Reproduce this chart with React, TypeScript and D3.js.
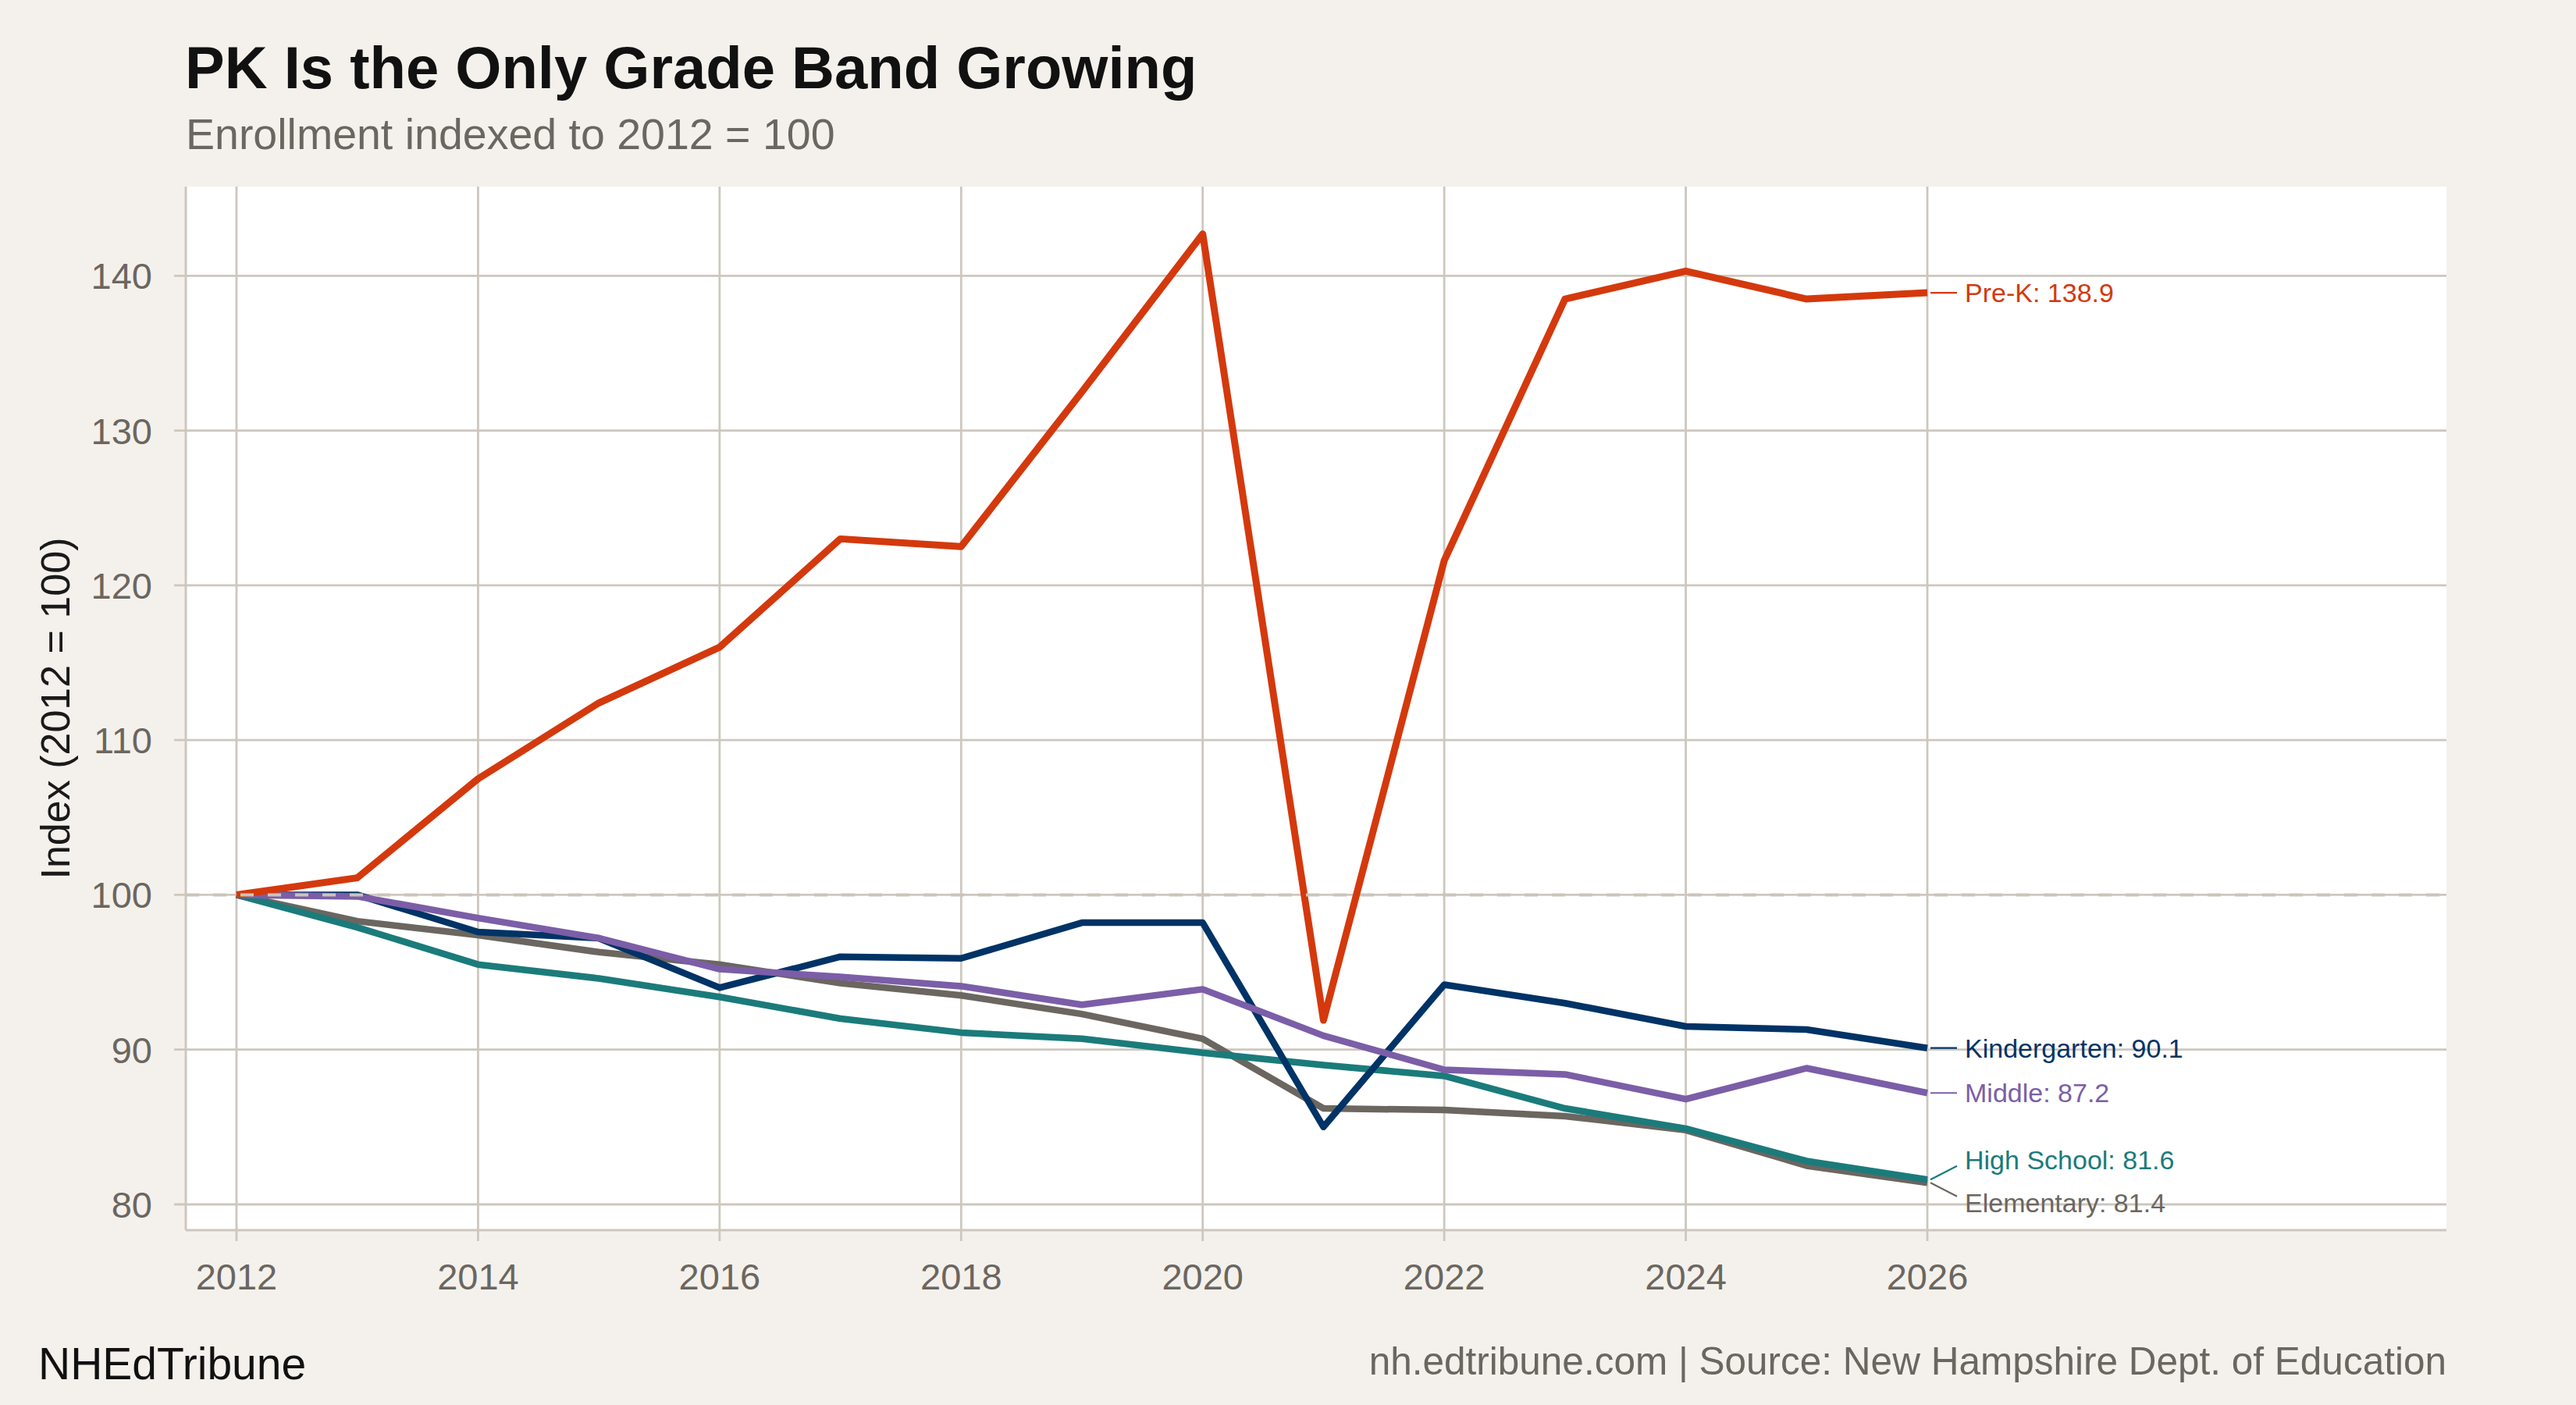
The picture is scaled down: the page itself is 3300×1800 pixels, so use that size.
import React, { useEffect, useRef } from 'react';
import * as d3 from 'd3';

const W = 3300;
const H = 1800;
const PANEL = { left: 238, right: 3134, top: 239, bottom: 1576 };
const FONT = '"Liberation Sans", Arial, Helvetica, sans-serif';

// Data (index, 2012 = 100)
const years = [2012, 2013, 2014, 2015, 2016, 2017, 2018, 2019, 2020, 2021, 2022, 2023, 2024, 2025, 2026];
const elementary = [100, 98.3, 97.4, 96.3, 95.5, 94.3, 93.5, 92.3, 90.7, 86.2, 86.1, 85.7, 84.8, 82.5, 81.4];
const highSchool = [100, 97.9, 95.5, 94.6, 93.4, 92.0, 91.1, 90.7, 89.8, 89.0, 88.3, 86.2, 84.9, 82.8, 81.6];
const kindergarten = [100, 100.0, 97.6, 97.2, 94.0, 96.0, 95.9, 98.2, 98.2, 85.0, 94.2, 93.0, 91.5, 91.3, 90.1];
const middle = [100, 99.9, 98.5, 97.2, 95.2, 94.7, 94.1, 92.9, 93.9, 90.9, 88.7, 88.4, 86.8, 88.8, 87.2];
const preK = [100, 101.1, 107.5, 112.4, 116.0, 123.0, 122.5, 132.5, 142.7, 91.9, 121.6, 138.5, 140.3, 138.5, 138.9];

const seriesNames = ['Elementary', 'High School', 'Kindergarten', 'Middle', 'Pre-K'];
const seriesValues = [elementary, highSchool, kindergarten, middle, preK];

const xTicks = [2012, 2014, 2016, 2018, 2020, 2022, 2024, 2026];
const yTicks = [80, 90, 100, 110, 120, 130, 140];
const baseline = 100;

const COLORS: Record<string, string> = {
  Elementary: '#6b6660',
  'High School': '#1b7b7b',
  Kindergarten: '#003366',
  Middle: '#7b5ea7',
  'Pre-K': '#d4390d',
};

const BG = '#f4f1ec';
const GRID = '#cdc7be';
const MUTED = '#6b6660';

export default function App() {
  const svgRef = useRef<SVGSVGElement>(null);

  useEffect(() => {
    if (!svgRef.current) return;
    const svg = d3.select(svgRef.current);
    svg.selectAll('*').remove();

    const span = years[years.length - 1] - years[0];
    const x = d3
      .scaleLinear()
      .domain([years[0] - 0.03 * span, years[years.length - 1] + 0.307 * span])
      .range([PANEL.left, PANEL.right]);

    const allVals = seriesValues.flat();
    const [lo, hi] = d3.extent(allVals) as [number, number];
    const pad = (hi - lo) * 0.05;
    const y = d3.scaleLinear().domain([lo - pad, hi + pad]).range([PANEL.bottom, PANEL.top]);

    svg.append('rect').attr('width', W).attr('height', H).attr('fill', BG);
    svg
      .append('rect')
      .attr('x', PANEL.left)
      .attr('y', PANEL.top)
      .attr('width', PANEL.right - PANEL.left)
      .attr('height', PANEL.bottom - PANEL.top)
      .attr('fill', '#ffffff');

    // grid
    const grid = svg.append('g');
    xTicks.forEach((t) => {
      grid
        .append('line')
        .attr('x1', x(t))
        .attr('x2', x(t))
        .attr('y1', PANEL.top)
        .attr('y2', PANEL.bottom + 14)
        .attr('stroke', GRID)
        .attr('stroke-width', 2.8);
    });
    yTicks.forEach((t) => {
      grid
        .append('line')
        .attr('x1', PANEL.left - 15)
        .attr('x2', PANEL.right)
        .attr('y1', y(t))
        .attr('y2', y(t))
        .attr('stroke', GRID)
        .attr('stroke-width', 2.8);
    });

    // axis lines (left + bottom)
    svg
      .append('line')
      .attr('x1', PANEL.left)
      .attr('x2', PANEL.left)
      .attr('y1', PANEL.top)
      .attr('y2', PANEL.bottom)
      .attr('stroke', GRID)
      .attr('stroke-width', 3);
    svg
      .append('line')
      .attr('x1', PANEL.left)
      .attr('x2', PANEL.right)
      .attr('y1', PANEL.bottom)
      .attr('y2', PANEL.bottom)
      .attr('stroke', GRID)
      .attr('stroke-width', 3);

    // tick labels
    yTicks.forEach((t) => {
      svg
        .append('text')
        .attr('x', 195)
        .attr('y', y(t))
        .attr('dy', '0.36em')
        .attr('text-anchor', 'end')
        .attr('fill', MUTED)
        .attr('font-size', 47)
        .attr('font-family', FONT)
        .text(String(t));
    });
    xTicks.forEach((t) => {
      svg
        .append('text')
        .attr('x', x(t))
        .attr('y', 1652)
        .attr('text-anchor', 'middle')
        .attr('fill', MUTED)
        .attr('font-size', 47)
        .attr('font-family', FONT)
        .text(String(t));
    });

    // lines
    const line = d3
      .line<number>()
      .x((_, i) => x(years[i]))
      .y((d) => y(d));
    seriesNames.forEach((name, si) => {
      svg
        .append('path')
        .attr('d', line(seriesValues[si]) ?? '')
        .attr('fill', 'none')
        .attr('stroke', COLORS[name])
        .attr('stroke-width', name === 'Pre-K' ? 9 : 8.5)
        .attr('stroke-linejoin', 'round')
        .attr('stroke-linecap', 'butt');
    });

    // reference line at 100
    svg
      .append('line')
      .attr('x1', PANEL.left)
      .attr('x2', PANEL.right)
      .attr('y1', y(baseline))
      .attr('y2', y(baseline))
      .attr('stroke', '#cbc4b9')
      .attr('stroke-width', 4)
      .attr('stroke-dasharray', '17,18');

    // end labels with a simple repel
    const xEnd = x(years[years.length - 1]);
    const labels = seriesNames.map((name, si) => {
      const v = seriesValues[si][seriesValues[si].length - 1];
      return { name, v, py: y(v), ly: y(v) };
    });
    const sorted = [...labels].sort((a, b) => a.py - b.py);
    const minGap = 55;
    for (let iter = 0; iter < 60; iter++) {
      for (let i = 0; i < sorted.length - 1; i++) {
        const a = sorted[i];
        const b = sorted[i + 1];
        const gap = b.ly - a.ly;
        if (gap < minGap) {
          const shift = (minGap - gap) / 2;
          a.ly -= shift;
          b.ly += shift;
        }
      }
    }
    const labelX = xEnd + 48;
    labels.forEach((l) => {
      const c = COLORS[l.name];
      const endY = l.ly + Math.max(-8, Math.min(8, l.py - l.ly));
      svg
        .append('line')
        .attr('x1', xEnd + 4)
        .attr('y1', l.py)
        .attr('x2', labelX - 10)
        .attr('y2', endY)
        .attr('stroke', c)
        .attr('stroke-width', 2.2);
      svg
        .append('text')
        .attr('x', labelX)
        .attr('y', l.ly)
        .attr('dy', '0.36em')
        .attr('fill', c)
        .attr('font-size', 34)
        .attr('font-family', FONT)
        .text(`${l.name}: ${l.v.toFixed(1)}`);
    });

    // titles
    svg
      .append('text')
      .attr('x', 237)
      .attr('y', 113)
      .attr('fill', '#111111')
      .attr('font-size', 76)
      .attr('font-weight', 'bold')
      .attr('font-family', FONT)
      .text('PK Is the Only Grade Band Growing');
    svg
      .append('text')
      .attr('x', 238)
      .attr('y', 191)
      .attr('fill', MUTED)
      .attr('font-size', 55.5)
      .attr('font-family', FONT)
      .text('Enrollment indexed to 2012 = 100');

    // y axis title
    svg
      .append('text')
      .attr('transform', `translate(89, ${(PANEL.top + PANEL.bottom) / 2}) rotate(-90)`)
      .attr('text-anchor', 'middle')
      .attr('fill', '#1a1a1a')
      .attr('font-size', 52)
      .attr('font-family', FONT)
      .text('Index (2012 = 100)');

    // footer
    svg
      .append('text')
      .attr('x', 49)
      .attr('y', 1767)
      .attr('fill', '#111111')
      .attr('font-size', 57)
      .attr('font-family', FONT)
      .text('NHEdTribune');
    svg
      .append('text')
      .attr('x', PANEL.right)
      .attr('y', 1761)
      .attr('text-anchor', 'end')
      .attr('fill', MUTED)
      .attr('font-size', 49.5)
      .attr('font-family', FONT)
      .text('nh.edtribune.com | Source: New Hampshire Dept. of Education');
  }, []);

  return (
    <svg
      ref={svgRef}
      width={W}
      height={H}
      style={{ position: 'absolute', left: 0, top: 0, display: 'block' }}
    />
  );
}
